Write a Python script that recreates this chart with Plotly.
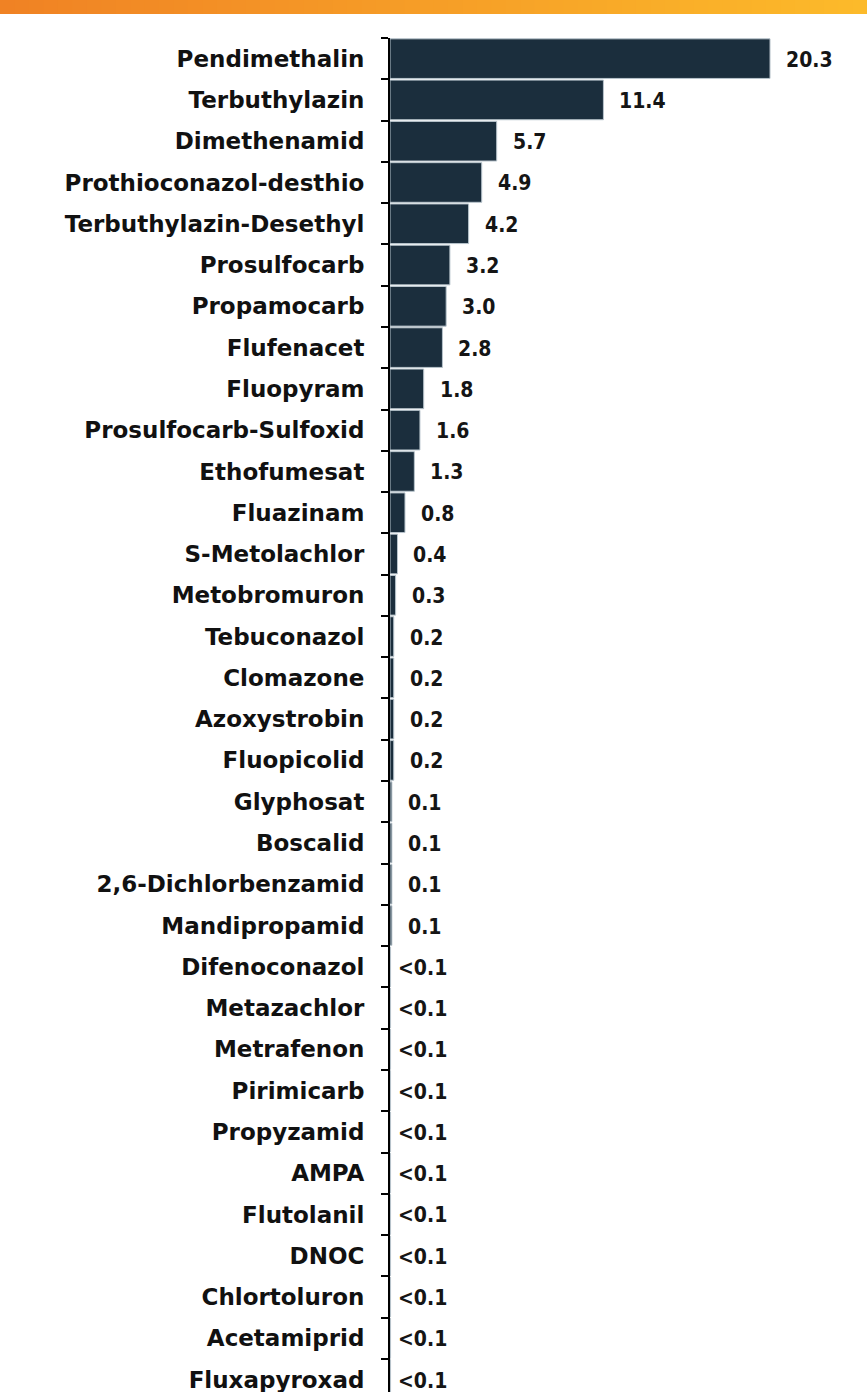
import plotly.graph_objects as go

categories = [
    "Pendimethalin", "Terbuthylazin", "Dimethenamid", "Prothioconazol-desthio",
    "Terbuthylazin-Desethyl", "Prosulfocarb", "Propamocarb", "Flufenacet",
    "Fluopyram", "Prosulfocarb-Sulfoxid", "Ethofumesat", "Fluazinam",
    "S-Metolachlor", "Metobromuron", "Tebuconazol", "Clomazone", "Azoxystrobin",
    "Fluopicolid", "Glyphosat", "Boscalid", "2,6-Dichlorbenzamid", "Mandipropamid",
    "Difenoconazol", "Metazachlor", "Metrafenon", "Pirimicarb", "Propyzamid",
    "AMPA", "Flutolanil", "DNOC", "Chlortoluron", "Acetamiprid", "Fluxapyroxad",
]
values = [
    20.3, 11.4, 5.7, 4.9, 4.2, 3.2, 3.0, 2.8, 1.8, 1.6, 1.3, 0.8, 0.4, 0.3,
    0.2, 0.2, 0.2, 0.2, 0.1, 0.1, 0.1, 0.1,
    0.03, 0.03, 0.03, 0.03, 0.03, 0.03, 0.03, 0.03, 0.03, 0.03, 0.03,
]
value_labels = [
    "20.3", "11.4", "5.7", "4.9", "4.2", "3.2", "3.0", "2.8", "1.8", "1.6", "1.3",
    "0.8", "0.4", "0.3", "0.2", "0.2", "0.2", "0.2", "0.1", "0.1", "0.1", "0.1",
    "<0.1", "<0.1", "<0.1", "<0.1", "<0.1", "<0.1", "<0.1", "<0.1", "<0.1", "<0.1", "<0.1",
]

W, H = 867, 1392
ML, MT = 390, 38
plot_w = W - ML
plot_h = H - MT

fig = go.Figure()
fig.add_trace(go.Bar(
    y=categories, x=values, orientation="h",
    marker=dict(color="#1b2e3d", line=dict(color="#b8c4cc", width=1)),
    hoverinfo="x+y",
))

annotations = []
for c, v, lab in zip(categories, values, value_labels):
    annotations.append(dict(
        x=v, y=c, xref="x", yref="y", text=lab, showarrow=False,
        xanchor="left", yanchor="middle",
        xshift=5 if lab.startswith("<") else 14, yshift=-1,
        font=dict(family="DejaVu Sans Condensed", size=21, color="#151515", weight=700),
    ))

# orange header band (gradient approximated by strips)
shapes = []
n = 60
c0 = (240, 130, 36)
c1 = (252, 186, 42)
for i in range(n):
    t = i / (n - 1)
    col = "rgb(%d,%d,%d)" % tuple(round(a + (b - a) * t) for a, b in zip(c0, c1))
    x0 = (-ML + W * i / n) / plot_w
    x1 = (-ML + W * (i + 1) / n + 1) / plot_w
    shapes.append(dict(
        type="rect", xref="paper", yref="paper",
        x0=x0, x1=x1, y0=1 + (MT - 14) / plot_h, y1=1 + MT / plot_h + 0.01,
        fillcolor=col, line=dict(width=0), layer="above",
    ))

fig.update_layout(
    width=W, height=H,
    margin=dict(l=ML, r=0, t=MT, b=0, pad=0),
    paper_bgcolor="white", plot_bgcolor="white",
    bargap=0.04,
    showlegend=False,
    annotations=annotations,
    shapes=shapes,
    xaxis=dict(visible=False, range=[0, plot_w / 18.72], fixedrange=True),
    yaxis=dict(
        range=[32.3, -0.5], showline=True, linecolor="#000000", linewidth=2,
        ticks="outside", tickson="boundaries", ticklen=7, tickwidth=2, tickcolor="#000000",
        showgrid=False, zeroline=False, ticklabelstandoff=19,
        tickfont=dict(family="DejaVu Sans", size=23, color="#111111", weight=700),
    ),
)

fig.write_html(
    "out.html",
    config={"displayModeBar": False},
    post_script="document.body.style.margin='0px';document.body.style.padding='0px';document.body.style.overflow='hidden';",
)
